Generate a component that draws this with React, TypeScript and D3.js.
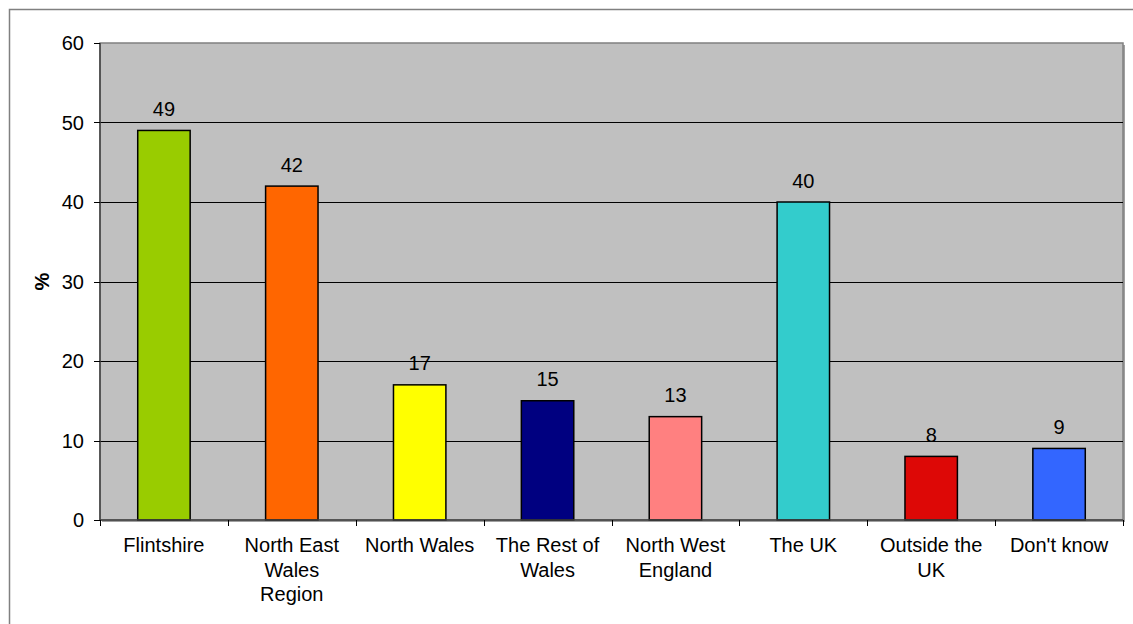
import React from "react";
import * as d3 from "d3";

const categories = [
  "Flintshire",
  "North East\nWales\nRegion",
  "North Wales",
  "The Rest of\nWales",
  "North West\nEngland",
  "The UK",
  "Outside the\nUK",
  "Don't know",
];
const values = [49, 42, 17, 15, 13, 40, 8, 9];
const colors = ["#99CC00", "#FF6600", "#FFFF00", "#000080", "#FF8080", "#33CCCC", "#DD0806", "#3366FF"];
const yTicks = [0, 10, 20, 30, 40, 50, 60];
const yLabel = "%";

const W = 1133;
const H = 624;
const plot = { left: 100, top: 43, right: 1123, bottom: 520 };
const FONT = "'Liberation Sans', Arial, sans-serif";

export default function App() {
  const x = d3
    .scaleBand<number>()
    .domain(d3.range(categories.length))
    .range([plot.left, plot.right])
    .paddingInner(0.59)
    .paddingOuter(0.295);
  const xb = d3.scaleBand<number>().domain(d3.range(categories.length)).range([plot.left, plot.right]);
  const y = d3.scaleLinear().domain([0, 60]).range([plot.bottom, plot.top]);

  return (
    <svg
      width={W}
      height={H}
      style={{ position: "absolute", left: 0, top: 0, background: "#fff" }}
      fontFamily={FONT}
    >
      <rect x={9.5} y={9.5} width={W + 20} height={H + 20} fill="#fff" stroke="#808080" strokeWidth={1.5} />
      {/* plot area */}
      <rect x={plot.left + 2} y={plot.top + 2} width={plot.right - plot.left} height={plot.bottom - plot.top} fill="#a0a0a0" />
      <rect x={plot.left} y={plot.top} width={plot.right - plot.left} height={plot.bottom - plot.top} fill="#C0C0C0" stroke="#808080" strokeWidth={1.5} />
      {/* gridlines */}
      {yTicks.filter((t) => t > 0 && t < 60).map((t) => (
        <line key={t} x1={plot.left} x2={plot.right} y1={Math.round(y(t)) + 0.5} y2={Math.round(y(t)) + 0.5} stroke="#000" strokeWidth={1} />
      ))}
      {/* bars */}
      {values.map((v, i) => (
        <rect
          key={i}
          x={x(i)!}
          y={y(v)}
          width={x.bandwidth()}
          height={y(0) - y(v)}
          fill={colors[i]}
          stroke="#000"
          strokeWidth={1.5}
        />
      ))}
      {/* value labels */}
      {values.map((v, i) => (
        <text key={i} x={x(i)! + x.bandwidth() / 2} y={y(v) - 14.5} textAnchor="middle" fontSize={20} fill="#000">
          {v}
        </text>
      ))}
      {/* axes */}
      <line x1={plot.left} x2={plot.left} y1={plot.top} y2={plot.bottom} stroke="#404040" strokeWidth={1.5} />
      <line x1={plot.left} x2={plot.right} y1={plot.bottom} y2={plot.bottom} stroke="#404040" strokeWidth={1.5} />
      {yTicks.map((t) => (
        <g key={t}>
          <line x1={plot.left - 6} x2={plot.left} y1={Math.round(y(t)) + 0.5} y2={Math.round(y(t)) + 0.5} stroke="#000" />
          <text x={84} y={y(t)} dy="0.35em" textAnchor="end" fontSize={20} fill="#000">
            {t}
          </text>
        </g>
      ))}
      {d3.range(categories.length + 1).map((i) => {
        const xx = Math.round(plot.left + i * xb.step()) + 0.5;
        return <line key={i} x1={xx} x2={xx} y1={plot.bottom} y2={plot.bottom + 6} stroke="#000" />;
      })}
      {categories.map((c, i) => (
        <text key={i} textAnchor="middle" fontSize={20} fill="#000">
          {c.split("\n").map((ln, j) => (
            <tspan key={j} x={xb(i)! + xb.bandwidth() / 2} y={552 + j * 24.5}>
              {ln}
            </tspan>
          ))}
        </text>
      ))}
      <text
        transform={`translate(49, ${(plot.top + plot.bottom) / 2}) rotate(-90)`}
        textAnchor="middle"
        fontSize={20}
        fontWeight="bold"
        fill="#000"
      >
        {yLabel}
      </text>
    </svg>
  );
}
